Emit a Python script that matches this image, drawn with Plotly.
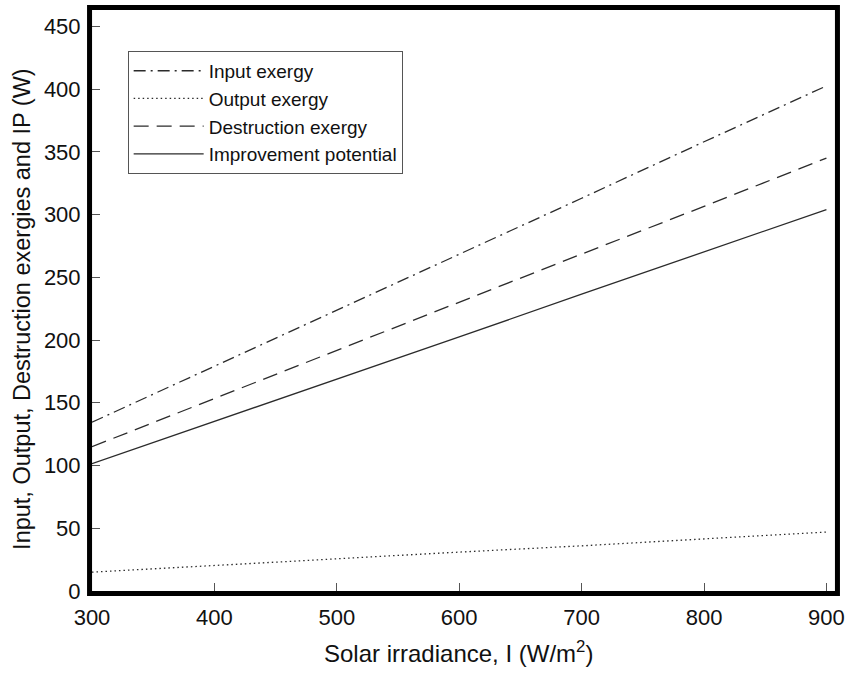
import plotly.graph_objects as go

irradiance = [300, 400, 500, 600, 700, 800, 900]
input_exergy = [134.5, 179, 224, 268.5, 313, 358, 402.5]
output_exergy = [15, 20.5, 25.5, 31, 36, 41.5, 47]
destruction_exergy = [115, 153.5, 192, 230, 268.5, 306.5, 345]
improvement_potential = [101.5, 135, 169, 202.5, 236.5, 270, 304]

x_ticks = [300, 400, 500, 600, 700, 800, 900]
y_ticks = [0, 50, 100, 150, 200, 250, 300, 350, 400, 450]

FONT = "Liberation Sans, Arial, sans-serif"
LC = "#2b2b2b"
TC = "#111"

fig = go.Figure()
fig.add_trace(go.Scatter(x=irradiance, y=input_exergy, mode="lines", name="Input exergy",
                         line=dict(color=LC, width=1.3, dash="12px,5px,2px,5px")))
fig.add_trace(go.Scatter(x=irradiance, y=output_exergy, mode="lines", name="Output exergy",
                         line=dict(color=LC, width=1.3, dash="1.5px,3px")))
fig.add_trace(go.Scatter(x=irradiance, y=destruction_exergy, mode="lines", name="Destruction exergy",
                         line=dict(color=LC, width=1.3, dash="15px,8px")))
fig.add_trace(go.Scatter(x=irradiance, y=improvement_potential, mode="lines", name="Improvement potential",
                         line=dict(color=LC, width=1.3)))

fig.update_layout(
    width=854, height=675,
    margin=dict(l=92, r=12, t=9, b=84),
    paper_bgcolor="white", plot_bgcolor="white",
    font=dict(family=FONT, size=20, color=TC),
    showlegend=True,
    legend=dict(x=0.048, y=0.9296, xanchor="left", yanchor="top",
                bordercolor="#555", borderwidth=1, bgcolor="white",
                font=dict(size=19, family=FONT, color=TC),
                itemwidth=70, tracegroupgap=0),
    xaxis=dict(range=[300, 907], tickvals=x_ticks, ticks="inside", ticklen=8,
               tickcolor="#555", showline=True, linecolor="#666", linewidth=1, mirror=True,
               showgrid=False, zeroline=False, tickfont=dict(size=22, family=FONT, color=TC),
               ticklabelstandoff=7),
    yaxis=dict(range=[0, 463], tickvals=y_ticks, ticks="inside", ticklen=8,
               tickcolor="#555", showline=True, linecolor="#666", linewidth=1, mirror=True,
               showgrid=False, zeroline=False, tickfont=dict(size=22, family=FONT, color=TC),
               ticklabelstandoff=6),
    annotations=[
        dict(text="Input, Output, Destruction exergies and IP (W)", textangle=-90,
             xref="paper", yref="paper", x=-0.0933, y=0.485, xanchor="center", yanchor="middle",
             showarrow=False, font=dict(size=23.5, family=FONT, color=TC)),
        dict(text="Solar irradiance, I (W/m<sup>2</sup>)",
             xref="paper", yref="paper", x=0.493, y=-0.105, xanchor="center", yanchor="middle",
             showarrow=False, font=dict(size=24, family=FONT, color=TC)),
    ],
    shapes=[dict(type="rect", xref="paper", yref="paper",
                 x0=-0.0033, x1=1.0033, y0=-0.0043, y1=1.0043,
                 line=dict(color="black", width=5), fillcolor="rgba(0,0,0,0)", layer="above")],
)

fig.write_html("out.html")
